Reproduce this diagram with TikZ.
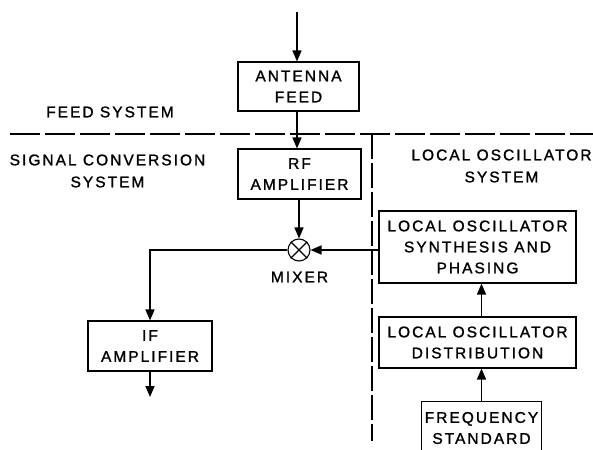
\documentclass[tikz,border=0pt]{standalone}
\usepackage{fontspec}
\setmainfont{Liberation Sans}[LetterSpace=13,FakeBold=1.3]
\usetikzlibrary{arrows.meta,calc}
\tikzset{
  blk/.style={draw, line width=1.1pt, inner sep=0pt, align=center, font=\fontsize{15.5}{21}\selectfont},
  lbl/.style={inner sep=0pt, align=center, font=\fontsize{15.5}{22}\selectfont},
  flow/.style={line width=1.6pt, -{Triangle[length=11pt,width=9pt]}},
  sep/.style={line width=1.5pt, dash pattern=on 30pt off 5pt},
  vsep/.style={line width=1.5pt, dash pattern=on 25pt off 4pt},
}
\begin{document}
\begin{tikzpicture}[x=1pt,y=-1pt]
\useasboundingbox (0,0) rectangle (593,449);
% boxes
\node[blk, minimum width=121pt, minimum height=49pt] (ant) at (298.5,86.5) {ANTENNA\\FEED};
\node[blk, minimum width=123pt, minimum height=50pt] (rf) at (299.5,174) {RF\\AMPLIFIER};
\node[draw, circle, line width=1.1pt, minimum size=22pt, inner sep=0pt] (mix) at (299,250) {};
\draw[line width=1.1pt] (mix.north west) -- (mix.south east) (mix.north east) -- (mix.south west);
\node[lbl] (mixl) at (299.5,277) {MIXER};
\node[blk, minimum width=124pt, minimum height=50pt] (if) at (150,346) {IF\\AMPLIFIER};
\node[blk, minimum width=197pt, minimum height=72pt] (syn) at (477.5,247) {LOCAL OSCILLATOR\\SYNTHESIS AND\\PHASING};
\node[blk, minimum width=197pt, minimum height=51pt] (dist) at (477.5,342.5) {LOCAL OSCILLATOR\\DISTRIBUTION};
\node[blk, draw=none, minimum width=119pt, minimum height=52pt] (freq) at (481.5,428) {FREQUENCY\\STANDARD};
\draw[line width=1.1pt] (freq.south west) -- (freq.north west) -- (freq.north east) -- (freq.south east);
% labels
\node[lbl] (feedl) at (110,112) {FEED SYSTEM};
\node[lbl] (sigl) at (107.5,171) {SIGNAL CONVERSION\\SYSTEM};
\node[lbl] (lol) at (501.5,166) {LOCAL OSCILLATOR\\SYSTEM};
% separators
\coordinate (hl) at (10,134);
\coordinate (hr) at (593,134);
\coordinate (vt) at (372,134);
\coordinate (vb) at (372,441);
\draw[sep] (hl) -- (hr);
\draw[vsep] (vt) -- (vb);
% connectors
\coordinate (in) at (297,12);
\coordinate (out) at (150,397);
\draw[flow] (in) -- (in |- ant.north);
\draw[flow] (ant.south -| in) -- (rf.north -| in);
\draw[flow] (rf.south -| mix) -- (mix.north);
\draw[flow] (mix.west) -| (if.north);
\draw[flow] (if.south) -- (out);
\draw[flow] (syn.west |- mix) -- (mix.east);
\draw[flow] (dist.north -| freq.north) -- (syn.south -| freq.north);
\draw[flow] (freq.north) -- (dist.south -| freq.north);
\end{tikzpicture}
\end{document}
